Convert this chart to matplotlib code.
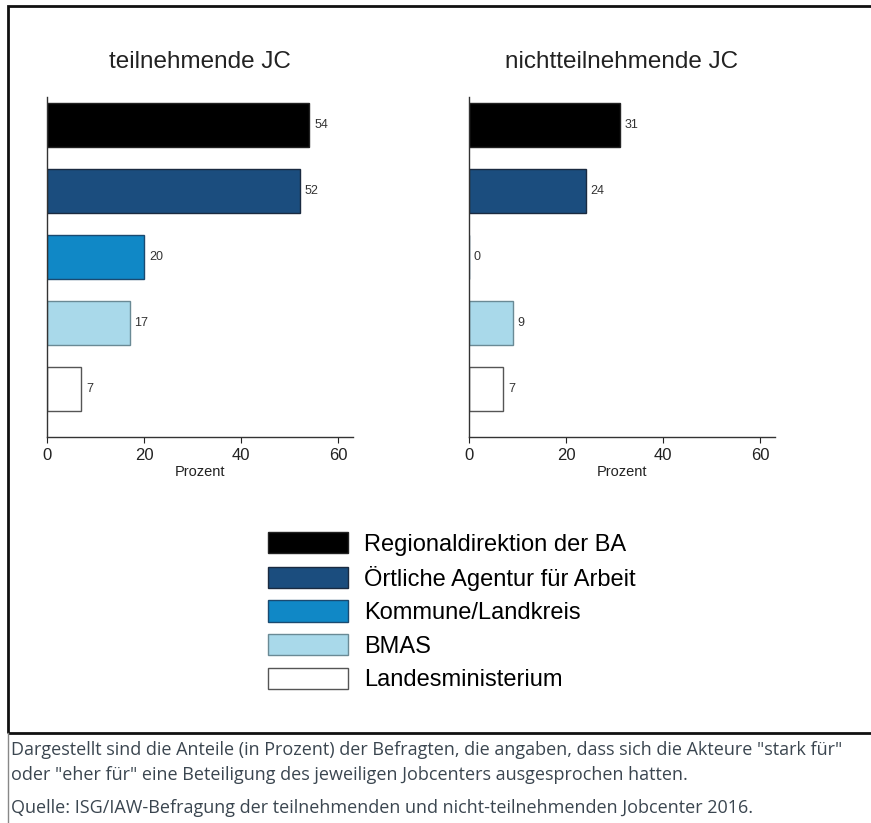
import matplotlib
matplotlib.use('Agg')
import matplotlib.pyplot as plt
import matplotlib.patches as mpatches
from matplotlib.lines import Line2D

# ── Data ──
actors = ['Regionaldirektion der BA', 'Örtliche Agentur für Arbeit',
          'Kommune/Landkreis', 'BMAS', 'Landesministerium']
teilnehmend = [54, 52, 20, 17, 7]
nichtteilnehmend = [31, 24, 0, 9, 7]
panel_titles = ['teilnehmende JC', 'nichtteilnehmende JC']
xticks = [0, 20, 40, 60]

colors = ['#000000', '#1b4d7e', '#1088c6', '#a9d9ea', '#ffffff']
edges = ['#222222', '#1a2a40', '#1a4a70', '#6a8a95', '#555555']

caption1 = ('Dargestellt sind die Anteile (in Prozent) der Befragten, die angaben, '
            'dass sich die Akteure "stark für"')
caption2 = 'oder "eher für" eine Beteiligung des jeweiligen Jobcenters ausgesprochen hatten.'
source = 'Quelle: ISG/IAW-Befragung der teilnehmenden und nicht-teilnehmenden Jobcenter 2016.'

plt.rcParams.update({
    'font.family': ['Liberation Sans', 'DejaVu Sans'],
    'axes.linewidth': 1.0,
})

W, H = 871, 823
fig = plt.figure(figsize=(W / 100, H / 100), dpi=100)


def px(x0, y0, w, h):
    # pixel box (top-left origin) -> figure fraction
    return [x0 / W, 1 - (y0 + h) / H, w / W, h / H]


ypos = list(range(len(actors)))
for i, (vals, title, x0) in enumerate(zip([teilnehmend, nichtteilnehmend], panel_titles, [47, 469])):
    ax = fig.add_axes(px(x0, 97, 306, 340))
    ax.barh(ypos, vals, height=0.67, color=colors, edgecolor=edges, linewidth=1.0)
    for y, v in zip(ypos, vals):
        ax.text(v + 1.0, y, f'{v}', va='center', ha='left', fontsize=9, color='#333333')
    ax.set_xlim(0, 63)
    ax.set_ylim(4.73, -0.42)
    ax.set_xticks(xticks)
    ax.tick_params(axis='x', labelsize=12, length=4, width=0.8, pad=4, colors='#222222')
    ax.set_yticks([])
    for s in ['top', 'right']:
        ax.spines[s].set_visible(False)
    ax.spines['left'].set_color('#333333')
    ax.spines['bottom'].set_color('#333333')
    ax.set_xlabel('Prozent', fontsize=10.5, labelpad=1, color='#222222')
    fig.text((x0 + 153) / W, 1 - 62 / H, title, ha='center', va='center',
             fontsize=17.5, color='#222222')

# ── Legend ──
handles = [mpatches.Patch(facecolor=c, edgecolor=e, linewidth=1.0) for c, e in zip(colors, edges)]
fig.legend(handles, actors, loc='upper left', bbox_to_anchor=(268 / W, 1 - 532 / H),
           frameon=False, fontsize=17, handlelength=3.4, handleheight=1.0,
           handletextpad=0.65, labelspacing=0.42, borderpad=0, borderaxespad=0)

# ── Frame and captions ──
frame = mpatches.Rectangle((8 / W, 1 - 733 / H), (W + 10) / W, (733 - 6) / H,
                           transform=fig.transFigure, fill=False, edgecolor='#111111',
                           linewidth=2.0, clip_on=False)
fig.add_artist(frame)
fig.add_artist(Line2D([8 / W, 8 / W], [0, 1 - 733 / H], transform=fig.transFigure,
                      color='#888888', linewidth=1.0))

cap_kw = dict(family=['Open Sans', 'DejaVu Sans'], fontsize=13.0, color='#3b4650',
              ha='left', va='center')
fig.text(11 / W, 1 - 750 / H, caption1, **cap_kw)
fig.text(11 / W, 1 - 775 / H, caption2, **cap_kw)
fig.text(11 / W, 1 - 808 / H, source, **cap_kw)

fig.savefig('out.png', dpi=100)
